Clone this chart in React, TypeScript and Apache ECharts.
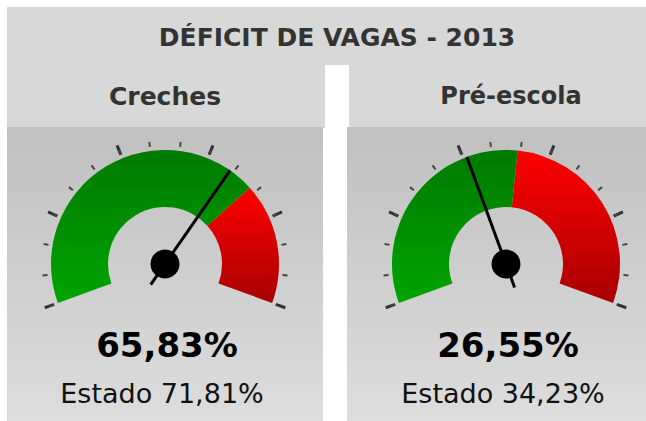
import React, { useEffect, useRef } from 'react';
import * as echarts from 'echarts';

const chartTitle = 'DÉFICIT DE VAGAS - 2013';
const categories = ['Creches', 'Pré-escola'];
const values = [65.83, 26.55];
const stateValues = [71.81, 34.23];
const gaugeMax = [100, 65];
const stateLabel = 'Estado';

const fmt = (v: number) => v.toFixed(2).replace('.', ',') + '%';

const CENTERS = [[165, 264], [506, 264]];
const R = 114;
const W = 57;

function buildGauge(i: number) {
  const green = new echarts.graphic.LinearGradient(0, 0, 0, 1, [
    { offset: 0, color: '#007a00' },
    { offset: 1, color: '#00a400' },
  ]);
  const red = new echarts.graphic.LinearGradient(0, 0, 0, 1, [
    { offset: 0, color: '#ff0000' },
    { offset: 1, color: '#a80000' },
  ]);
  return {
    type: 'gauge',
    z: 3,
    center: CENTERS[i],
    radius: R,
    startAngle: 200,
    endAngle: -20,
    min: 0,
    max: gaugeMax[i],
    splitNumber: 5,
    axisLine: {
      lineStyle: { width: W, color: [[stateValues[i] / gaugeMax[i], green], [1, red]] },
    },
    splitLine: { length: 10, distance: -W - 14, lineStyle: { width: 3, color: '#333333' } },
    axisTick: { splitNumber: 3, length: 5, distance: -W - 9, lineStyle: { width: 2, color: '#444444' } },
    axisLabel: { show: false },
    pointer: {
      icon: 'rect',
      length: R + 25,
      width: 3,
      offsetCenter: [0, 25],
      itemStyle: { color: '#000' },
    },
    anchor: { show: true, showAbove: true, size: 29, itemStyle: { color: '#000' } },
    title: {
      offsetCenter: [-3, 129],
      fontSize: 27,
      color: '#111',
      fontFamily: 'DejaVu Sans',
    },
    detail: {
      offsetCenter: [2, 81],
      fontSize: 34,
      fontWeight: 'bold',
      color: '#000',
      fontFamily: 'DejaVu Sans',
      formatter: (v: number) => fmt(v),
    },
    data: [{ value: values[i], name: `${stateLabel} ${fmt(stateValues[i])}` }],
  };
}

const bodyFill = {
  type: 'linear',
  x: 0,
  y: 0,
  x2: 0,
  y2: 1,
  colorStops: [
    { offset: 0, color: '#c0c0c0' },
    { offset: 1, color: '#dddddd' },
  ],
};

export default function App() {
  const ref = useRef<HTMLDivElement>(null);
  useEffect(() => {
    if (!ref.current) return;
    const chart = echarts.init(ref.current, null, { renderer: 'svg' });
    const header = '#d8d8d8';
    chart.setOption({
      animation: false,
      backgroundColor: '#ffffff',
      graphic: [
        { type: 'rect', z: 0, shape: { x: 7, y: 7, width: 639, height: 58 }, style: { fill: header } },
        { type: 'rect', z: 0, shape: { x: 7, y: 64, width: 318, height: 64 }, style: { fill: header } },
        { type: 'rect', z: 0, shape: { x: 349, y: 64, width: 297, height: 64 }, style: { fill: header } },
        { type: 'rect', z: 0, shape: { x: 7, y: 127, width: 316, height: 294 }, style: { fill: bodyFill } },
        { type: 'rect', z: 0, shape: { x: 347, y: 127, width: 299, height: 294 }, style: { fill: bodyFill } },
        {
          type: 'text', z: 10, x: 337, y: 37,
          style: {
            text: chartTitle, fill: '#333333', font: 'bold 25px "DejaVu Sans"',
            textAlign: 'center', textVerticalAlign: 'middle',
          },
        },
        {
          type: 'text', z: 10, x: 165, y: 96,
          style: {
            text: categories[0], fill: '#333333', font: 'bold 25px "DejaVu Sans"',
            textAlign: 'center', textVerticalAlign: 'middle',
          },
        },
        {
          type: 'text', z: 10, x: 511, y: 96,
          style: {
            text: categories[1], fill: '#333333', font: 'bold 24px "DejaVu Sans"',
            textAlign: 'center', textVerticalAlign: 'middle',
          },
        },
      ],
      series: [buildGauge(0), buildGauge(1)],
    });
    return () => chart.dispose();
  }, []);
  return (
    <div
      ref={ref}
      style={{ position: 'absolute', left: 0, top: 0, width: 646, height: 421 }}
    />
  );
}
